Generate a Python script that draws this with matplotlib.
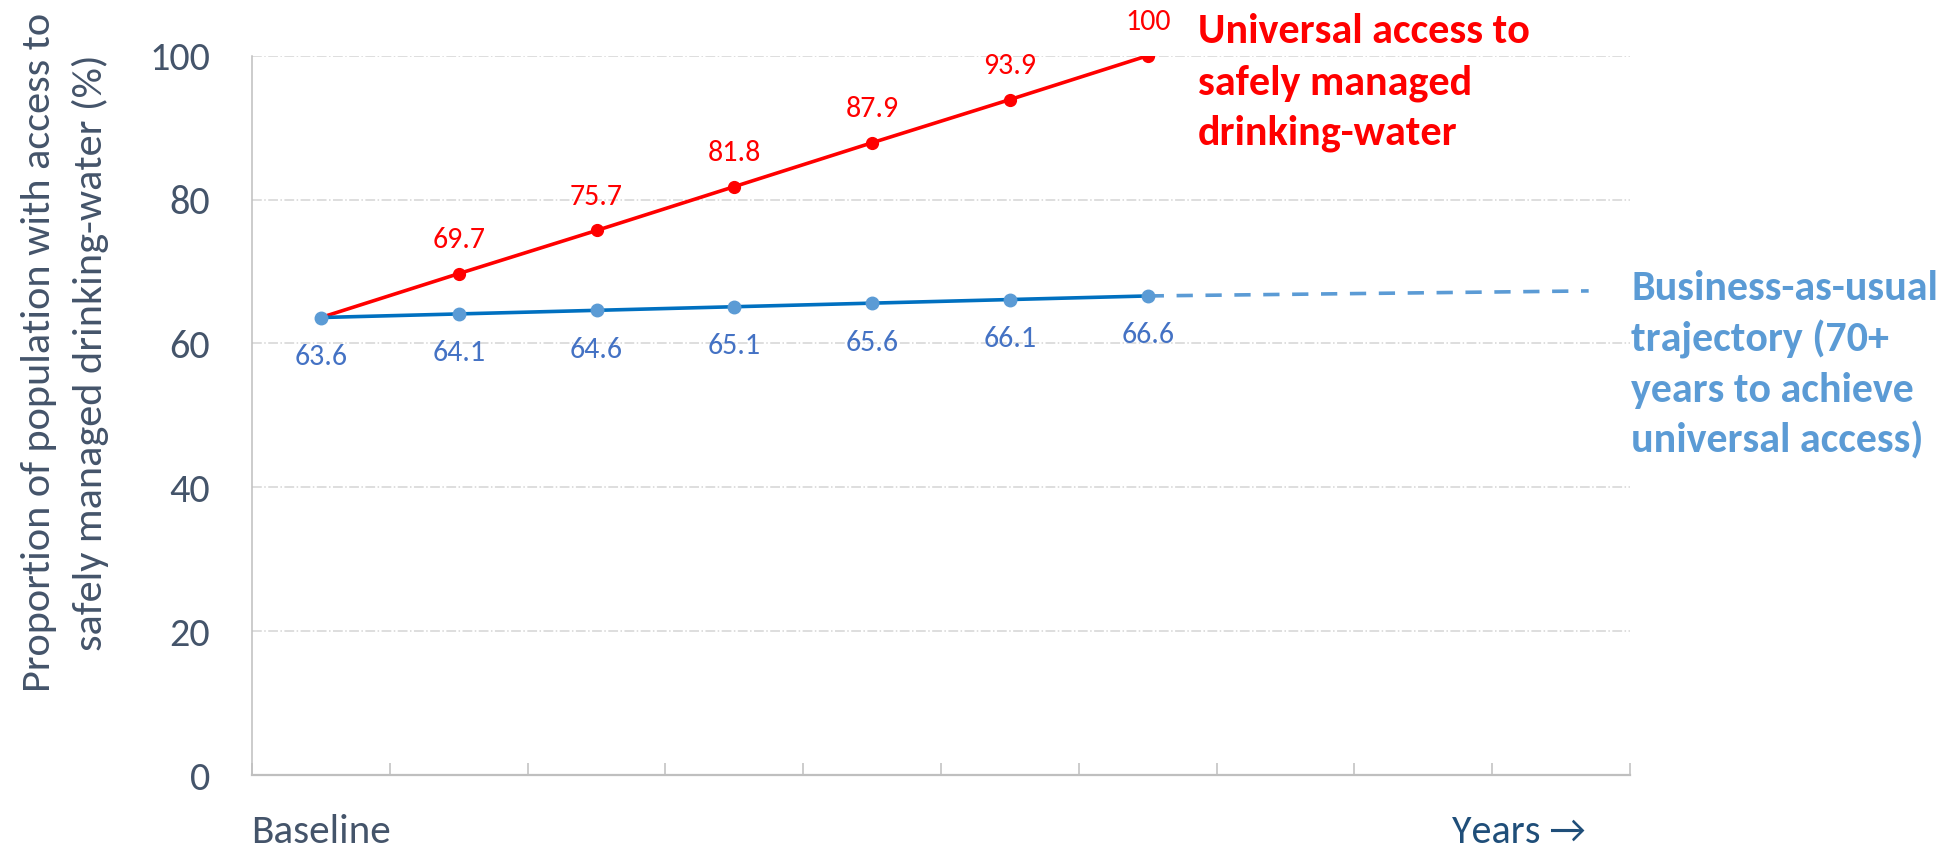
import matplotlib
matplotlib.use('Agg')
import matplotlib.pyplot as plt
from matplotlib import font_manager

# values
steps = [0, 1, 2, 3, 4, 5, 6]
universal = [63.6, 69.7, 75.7, 81.8, 87.9, 93.9, 100]
business = [63.6, 64.1, 64.6, 65.1, 65.6, 66.1, 66.6]
bau_ext_x = [6, 9.2]
bau_ext_y = [66.6, 67.3]
yticks = [0, 20, 40, 60, 80, 100]

ylabel_lines = ['Proportion of population with access to',
                'safely managed drinking-water (%)']
red_note = ['Universal access to', 'safely managed', 'drinking-water']
blue_note = ['Business-as-usual', 'trajectory (70+', 'years to achieve',
             'universal access)']

# Calibri-like face: Carlito if present, else Lato (Carlito's parent)
installed = {f.name for f in font_manager.fontManager.ttflist}
main_font = 'DejaVu Sans'
for cand in ['Carlito', 'Lato', 'Open Sans']:
    if cand in installed:
        main_font = cand
        break
fam = [main_font, 'DejaVu Sans']

slate = '#44546A'
red = '#FF0000'
blue_line = '#0070C0'
blue_light = '#5B9BD5'
blue_lab = '#4472C4'

W, H = 1944, 849
fig = plt.figure(figsize=(W / 100, H / 100), dpi=100)
ax = fig.add_axes([252 / W, 1 - 775 / H, (1630 - 252) / W, (775 - 55.7) / H])
renderer = fig.canvas.get_renderer()


def fit(txt, target, along='w'):
    # scale font so the text's extent matches what the picture shows
    for _ in range(3):
        bb = txt.get_window_extent(renderer)
        cur = bb.width if along == 'w' else bb.height
        txt.set_fontsize(txt.get_fontsize() * target / cur)
    return txt.get_fontsize()


def size_for(s, target, **kw):
    t = fig.text(0, 0, s, fontsize=20, family=fam, **kw)
    fs = fit(t, target)
    t.remove()
    return fs


def px(x, y):
    return x / W, 1 - y / H


tick_fs = size_for('100', 61)
lab_fs = size_for('69.7', 53)

ax.plot(bau_ext_x, bau_ext_y, color=blue_light, lw=2.6, dashes=(4.5, 3.5), zorder=2)
ax.plot(steps, universal, color=red, lw=2.6, marker='o', ms=8.5,
        mfc=red, mec=red, markevery=list(range(1, len(steps))), zorder=3)
ax.plot(steps, business, color=blue_line, lw=2.6, zorder=4)
ax.plot(steps, business, ls='none', marker='o', ms=9,
        mfc=blue_light, mec=blue_light, zorder=5)

for x, v in zip(steps[1:], universal[1:]):
    lab = '100' if v == 100 else f'{v:.1f}'
    ax.annotate(lab, (x, v), xytext=(0, 18.5), textcoords='offset points',
                ha='center', va='baseline', color=red, fontsize=lab_fs, family=fam)
for x, v in zip(steps, business):
    ax.annotate(f'{v:.1f}', (x, v), xytext=(0, -19), textcoords='offset points',
                ha='center', va='top', color=blue_lab, fontsize=lab_fs, family=fam)

ax.set_xlim(-0.5, 9.5)
ax.set_ylim(0, 100)
ax.set_yticks(yticks)
ax.set_yticklabels([str(t) for t in yticks], family=fam, fontsize=tick_fs, color=slate)
ax.set_xticks([i - 0.5 for i in range(11)])
ax.set_xticklabels([])
ax.tick_params(axis='x', direction='in', length=8.6, color='#BFBFBF', width=1.1)
ax.tick_params(axis='y', length=0, pad=30)

for t in yticks[1:]:
    ax.axhline(t, color='#D5D5D5', lw=1.1, ls='-.', zorder=1)

for s in ['top', 'right']:
    ax.spines[s].set_visible(False)
ax.spines['left'].set_color('#BFBFBF')
ax.spines['left'].set_linewidth(1.1)
ax.spines['bottom'].set_color('#BFBFBF')
ax.spines['bottom'].set_linewidth(1.6)

# x-axis end labels
t = fig.text(*px(251, 843), 'Baseline', ha='left', va='baseline', color=slate,
             family=fam, fontsize=20)
fit(t, 140)
t = fig.text(*px(1586, 843), 'Years \u2192', ha='right', va='baseline', color='#1F4E79',
             family=fam, fontsize=20)
fit(t, 134)

# y-axis title, two centred lines
yl_fs = size_for(ylabel_lines[0], 679)
for line, bx in zip(ylabel_lines, [50, 102]):
    fig.text(*px(bx, 352.5), line, rotation=90, rotation_mode='anchor',
             ha='center', va='baseline', color=slate, family=fam, fontsize=yl_fs)

# callouts next to the lines
red_fs = size_for(red_note[0], 332, fontweight='bold')
for line, by in zip(red_note, [43, 94, 145]):
    fig.text(*px(1198, by), line, ha='left', va='baseline', color=red,
             fontweight='bold', family=fam, fontsize=red_fs)

blue_fs = size_for(blue_note[0], 306, fontweight='bold')
for line, by in zip(blue_note, [300, 351, 402, 453]):
    fig.text(*px(1631, by), line, ha='left', va='baseline', color=blue_light,
             fontweight='bold', family=fam, fontsize=blue_fs)

fig.savefig('out.png', dpi=100)
